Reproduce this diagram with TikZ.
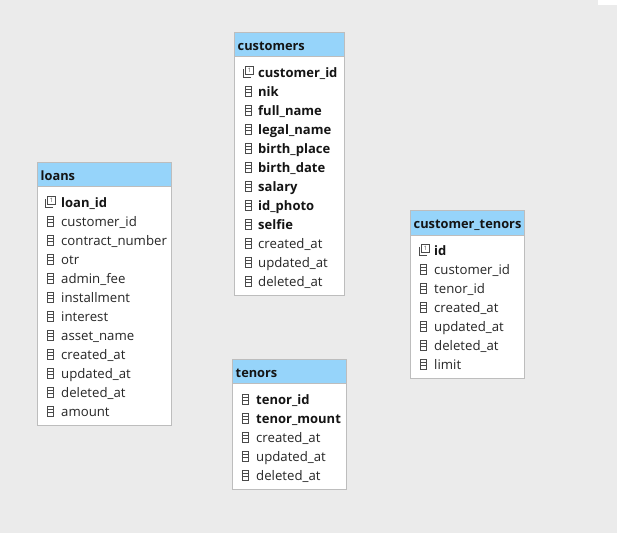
\documentclass[tikz,border=0pt]{standalone}
\usepackage{fontspec}
\setmainfont{Open Sans}
\definecolor{bg}{HTML}{EBEBEB}
\definecolor{bordergray}{HTML}{BDBDBD}
\definecolor{headblue}{HTML}{96D4FA}
\definecolor{txt}{HTML}{141414}
\definecolor{txtn}{HTML}{262626}
\definecolor{icon}{HTML}{4A4A4A}
\tikzset{
  tblbody/.style={draw=bordergray, fill=white, inner sep=0pt, line width=0.9pt},
  tblhead/.style={draw=bordergray, fill=headblue, inner sep=0pt, line width=0.9pt},
  headtext/.style={font=\fontsize{12.8}{14}\selectfont\bfseries, text=txt, inner sep=0pt},
  fb/.style={font=\fontsize{13}{14}\selectfont\bfseries, text=txt, inner sep=0pt},
  fn/.style={font=\fontsize{13.2}{14}\selectfont, text=txtn, inner sep=0pt},
  colicon/.pic={
    \draw[icon, line width=0.9pt] (-3,-5) rectangle (3,5);
    \draw[icon, line width=0.8pt] (-3,-1.7) -- (3,-1.7) (-3,1.7) -- (3,1.7);
  },
  keyicon/.pic={
    \draw[icon, line width=0.9pt] (-5,-3) -- (-5,5) -- (3,5);
    \draw[icon, line width=0.9pt, fill=white] (-2.5,-5.5) rectangle (5.5,2.5);
    \node[inner sep=0pt, font=\fontsize{6}{6}\selectfont, text=icon] at (1.5,-1.5) {1};
  }
}
\begin{document}
\begin{tikzpicture}[x=1pt,y=-1pt]
\useasboundingbox (0,0) rectangle (617,533);
\fill[bg] (0,0) rectangle (617,533);
\fill[white] (598,0) rectangle (617,5);

% ---------- customers ----------
\node[tblbody, minimum width=110pt, minimum height=263pt, anchor=north west] (customers) at (234,32) {};
\node[tblhead, minimum width=110pt, minimum height=24pt, anchor=north west] (customersH) at (234,32) {};
\node[headtext, anchor=base west] (customersT) at (237.5,50) {customers};
\pic at (248,72) {keyicon};
\foreach \i in {1,...,11} { \pic at (248,{72+19*\i}) {colicon}; }
\foreach \nm/\tx/\st [count=\i from 0] in {
  cu1/customer\_id/fb, cu2/nik/fb, cu3/full\_name/fb, cu4/legal\_name/fb,
  cu5/birth\_place/fb, cu6/birth\_date/fb, cu7/salary/fb, cu8/id\_photo/fb,
  cu9/selfie/fb, cu10/created\_at/fn, cu11/updated\_at/fn, cu12/deleted\_at/fn}
{ \node[\st, anchor=base west] (\nm) at (258,{72+19*\i+5}) {\tx}; }

% ---------- loans ----------
\node[tblbody, minimum width=134pt, minimum height=263pt, anchor=north west] (loans) at (37,162) {};
\node[tblhead, minimum width=134pt, minimum height=24pt, anchor=north west] (loansH) at (37,162) {};
\node[headtext, anchor=base west] (loansT) at (40.5,180) {loans};
\pic at (50,202) {keyicon};
\foreach \i in {1,...,11} { \pic at (50,{202+19*\i}) {colicon}; }
\foreach \nm/\tx/\st [count=\i from 0] in {
  lo1/loan\_id/fb, lo2/customer\_id/fn, lo3/contract\_number/fn, lo4/otr/fn,
  lo5/admin\_fee/fn, lo6/installment/fn, lo7/interest/fn, lo8/asset\_name/fn,
  lo9/created\_at/fn, lo10/updated\_at/fn, lo11/deleted\_at/fn, lo12/amount/fn}
{ \node[\st, anchor=base west] (\nm) at (61,{202+19*\i+5}) {\tx}; }

% ---------- customer_tenors ----------
\node[tblbody, minimum width=114pt, minimum height=168pt, anchor=north west] (ctenors) at (410,210) {};
\node[tblhead, minimum width=114pt, minimum height=25pt, anchor=north west] (ctenorsH) at (410,210) {};
\node[headtext, anchor=base west] (ctenorsT) at (413.5,228.5) {customer\_tenors};
\pic at (424,250) {keyicon};
\foreach \i in {1,...,6} { \pic at (423,{250+19*\i}) {colicon}; }
\foreach \nm/\tx/\st [count=\i from 0] in {
  ct1/id/fb, ct2/customer\_id/fn, ct3/tenor\_id/fn, ct4/created\_at/fn,
  ct5/updated\_at/fn, ct6/deleted\_at/fn, ct7/limit/fn}
{ \node[\st, anchor=base west] (\nm) at (434,{250+19*\i+5}) {\tx}; }

% ---------- tenors ----------
\node[tblbody, minimum width=114pt, minimum height=130pt, anchor=north west] (tenors) at (232,359) {};
\node[tblhead, minimum width=114pt, minimum height=24pt, anchor=north west] (tenorsH) at (232,359) {};
\node[headtext, anchor=base west] (tenorsT) at (235.5,377) {tenors};
\foreach \i in {0,...,4} { \pic at (245,{399+19*\i}) {colicon}; }
\foreach \nm/\tx/\st [count=\i from 0] in {
  te1/tenor\_id/fb, te2/tenor\_mount/fb, te3/created\_at/fn,
  te4/updated\_at/fn, te5/deleted\_at/fn}
{ \node[\st, anchor=base west] (\nm) at (256,{399+19*\i+5}) {\tx}; }
\end{tikzpicture}
\end{document}
